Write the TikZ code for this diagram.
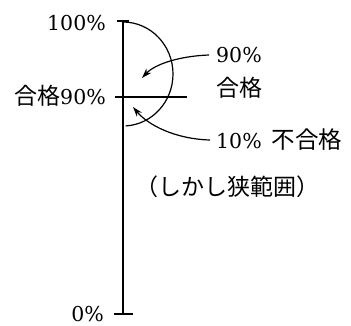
\documentclass[tikz,border=0pt]{standalone}
\usepackage{fontspec}
\setmainfont{DejaVu Serif}
\newfontfamily\cjk{Noto Sans CJK JP}
\usetikzlibrary{arrows.meta}
\tikzset{
  lbl/.style={inner sep=0pt, font=\fontsize{20.5}{24}\selectfont},
  cj/.style={inner sep=0pt, font=\fontsize{23}{26}\selectfont\cjk},
  axisline/.style={line width=1.6pt},
  thinline/.style={line width=1.2pt},
  arr/.style={line width=1.2pt, -{Stealth[length=10pt,width=6.5pt]}}
}
\begin{document}
\begin{tikzpicture}[x=1pt,y=-1pt]
\useasboundingbox (0,0) rectangle (351,326);
% axis
\coordinate (top) at (123,21);
\coordinate (bot) at (123,314);
\coordinate (tl) at (117,21);
\coordinate (tr) at (129,21);
\coordinate (bl) at (114,314);
\coordinate (br) at (133,314);
\coordinate (ml) at (115,97);
\coordinate (mr) at (187,97);
\draw[axisline] (top) -- (bot);
\draw[thinline] (tl) -- (tr);
\draw[thinline] (bl) -- (br);
\draw[thinline] (ml) -- (mr);
% half ellipse
\coordinate (arcs) at (123,22);
\draw[thinline] (arcs) arc[start angle=-90, end angle=87, x radius=50, y radius=52];
% labels
\node[lbl, anchor=base east] (p100) at (106,31) {100\%};
\node[lbl, anchor=base east] (p90) at (106,105) {{\cjk\fontsize{23}{26}\selectfont 合格}90\%};
\node[lbl, anchor=base east] (p0) at (104,321) {0\%};
\node[lbl, anchor=base west] (r90) at (216,63) {90\%};
\node[cj, anchor=west] (rgo) at (216,88) {合格};
\node[lbl, anchor=base west] (r10) at (216,149) {10\%\hspace{10pt}{\cjk\fontsize{23.5}{26}\selectfont 不合格}};
\node[cj] (note) at (227,187) {（しかし狭範囲）};
% arrows
\coordinate (t1) at (142,78);
\coordinate (t2) at (133,107);
\draw[arr] (r90.base west) ++(-7,-8) coordinate (s1) .. controls (180,56) and (155,64) .. (t1);
\draw[arr] (r10.base west) ++(-6,-9) coordinate (s2) .. controls (175,139) and (148,125) .. (t2);
\end{tikzpicture}
\end{document}
